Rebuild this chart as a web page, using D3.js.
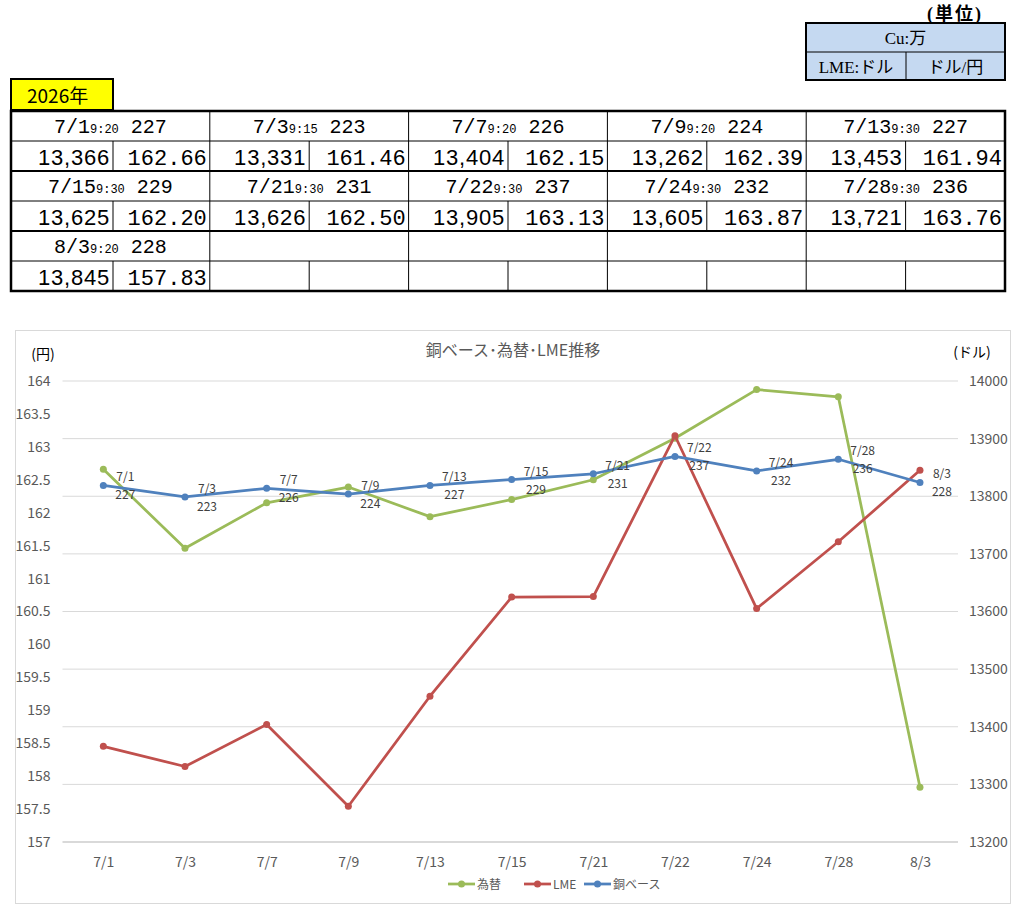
<!DOCTYPE html>
<html><head><meta charset="utf-8">
<script src="https://cdn.jsdelivr.net/npm/d3@7"></script>
<style>
html,body{margin:0;padding:0;background:#fff;}
svg{display:block;}
</style></head>
<body>
<svg id="c" width="1036" height="920"></svg>
<script>
// ---- data ----
const dates  = ["7/1","7/3","7/7","7/9","7/13","7/15","7/21","7/22","7/24","7/28","8/3"];
const times  = ["9:20","9:15","9:20","9:20","9:30","9:30","9:30","9:30","9:30","9:30","9:20"];
const copper = [227,223,226,224,227,229,231,237,232,236,228];
const lme    = [13366,13331,13404,13262,13453,13625,13626,13905,13605,13721,13845];
const fx     = [162.66,161.46,162.15,162.39,161.94,162.20,162.50,163.13,163.87,163.76,157.83];
const leftTicks  = [157,157.5,158,158.5,159,159.5,160,160.5,161,161.5,162,162.5,163,163.5,164];
const rightTicks = [13200,13300,13400,13500,13600,13700,13800,13900,14000];
const seriesNames = ["為替","LME","銅ベース"];
const yearLabel = "2026年";
const chartTitle = "銅ベース･為替･LME推移";
const unitTitle = "(単位)";
const unitCells = ["Cu:万","LME:ドル","ドル/円"];

const svg = d3.select("#c");
const colors = {fx:"#9BBB59", lme:"#C0504D", cu:"#4F81BD"};
const jp = "'Noto Sans CJK JP','Noto Sans',sans-serif";
const mono = "'Liberation Mono','DejaVu Sans Mono',monospace";
const sans = "'Liberation Sans','Noto Sans',sans-serif";
const serif = "'Liberation Serif','Noto Sans CJK JP',serif";

// ---- unit box ----
const ub = {x0:806, x1:1005, y0:23, ym:52, y1:80, xm:906};
svg.append("text").attr("x",955).attr("y",20).attr("text-anchor","middle")
  .attr("font-family",serif).attr("font-size",18).attr("font-weight","bold").attr("letter-spacing",2).text(unitTitle);
svg.append("rect").attr("x",ub.x0).attr("y",ub.y0).attr("width",ub.x1-ub.x0).attr("height",ub.y1-ub.y0)
  .attr("fill","#C5D9F1").attr("stroke","#000").attr("stroke-width",2);
svg.append("line").attr("x1",ub.x0).attr("x2",ub.x1).attr("y1",ub.ym).attr("y2",ub.ym).attr("stroke","#000").attr("stroke-width",1);
svg.append("line").attr("x1",ub.xm).attr("x2",ub.xm).attr("y1",ub.ym).attr("y2",ub.y1).attr("stroke","#000").attr("stroke-width",1);
svg.append("text").attr("x",(ub.x0+ub.x1)/2).attr("y",44).attr("text-anchor","middle")
  .attr("font-family",serif).attr("font-size",17).text(unitCells[0]);
svg.append("text").attr("x",(ub.x0+ub.xm)/2).attr("y",73).attr("text-anchor","middle")
  .attr("font-family",serif).attr("font-size",17).text(unitCells[1]);
svg.append("text").attr("x",(ub.xm+ub.x1)/2).attr("y",73).attr("text-anchor","middle")
  .attr("font-family",serif).attr("font-size",17).text(unitCells[2]);

// ---- year box ----
svg.append("rect").attr("x",11).attr("y",79).attr("width",102).attr("height",31)
  .attr("fill","#FFFF00").attr("stroke","#000").attr("stroke-width",2);
svg.append("text").attr("x",27).attr("y",103).attr("font-family",jp).attr("font-size",19).text(yearLabel);

// ---- table ----
const tX0 = 11, tX1 = 1005, groupsPerRow = 5;
const groupW = (tX1 - tX0)/groupsPerRow;
const rowTops = [111,171,231];
const rowH = 30;
const nRows = rowTops.length;
const fmtComma = d3.format(",");
for (let r=0;r<nRows;r++){
  const yTop = rowTops[r];
  for (let g=0; g<groupsPerRow; g++){
    const gx = tX0 + g*groupW;
    const split = gx + (g===0 ? 102 : groupW/2);
    svg.append("line").attr("x1",split).attr("x2",split).attr("y1",yTop+rowH).attr("y2",yTop+2*rowH)
      .attr("stroke","#000").attr("stroke-width",1);
    if (g>0) svg.append("line").attr("x1",gx).attr("x2",gx).attr("y1",yTop).attr("y2",yTop+2*rowH)
      .attr("stroke","#000").attr("stroke-width",1);
  }
  svg.append("line").attr("x1",tX0).attr("x2",tX1).attr("y1",yTop+rowH).attr("y2",yTop+rowH)
    .attr("stroke","#000").attr("stroke-width",1);
  if (r>0) svg.append("line").attr("x1",tX0).attr("x2",tX1).attr("y1",yTop).attr("y2",yTop)
    .attr("stroke","#000").attr("stroke-width",2);
}
svg.append("rect").attr("x",tX0).attr("y",rowTops[0]).attr("width",tX1-tX0).attr("height",nRows*2*rowH)
  .attr("fill","none").attr("stroke","#000").attr("stroke-width",2.5);

dates.forEach((d,i)=>{
  const r = Math.floor(i/groupsPerRow), g = i%groupsPerRow;
  const gx = tX0 + g*groupW;
  const split = gx + (g===0 ? 102 : groupW/2);
  const yTop = rowTops[r];
  const t = svg.append("text").attr("x",gx+groupW/2).attr("y",yTop+22).attr("text-anchor","middle")
    .attr("font-family",mono).attr("font-size",20).attr("fill","#000");
  t.append("tspan").text(d);
  t.append("tspan").attr("font-size",12).text(times[i]);
  t.append("tspan").text(" "+copper[i]);
  svg.append("text").attr("x",split-3).attr("y",yTop+rowH+24).attr("text-anchor","end")
    .attr("font-family",sans).attr("font-size",22).attr("letter-spacing",0.8).attr("fill","#000").text(fmtComma(lme[i]));
  svg.append("text").attr("x",gx+groupW-3).attr("y",yTop+rowH+24).attr("text-anchor","end")
    .attr("font-family",mono).attr("font-size",22).attr("fill","#000").text(fx[i].toFixed(2));
});

// ---- chart ----
svg.append("rect").attr("x",15.5).attr("y",330.5).attr("width",995).attr("height",573)
  .attr("fill","#fff").attr("stroke","#D9D9D9").attr("stroke-width",1);

const plot = {x0:62.5, x1:960.8, yTop:381, yBot:842};
const x = d3.scalePoint().domain(dates).range([plot.x0, plot.x1]).padding(0.5);
const yL = d3.scaleLinear().domain([157,164]).range([plot.yBot, plot.yTop]);
const yR = d3.scaleLinear().domain([13200,14000]).range([plot.yBot, plot.yTop]);
const yC = d3.scaleLinear().domain([104,263]).range([plot.yBot, plot.yTop]);

svg.append("g").selectAll("line").data(rightTicks).join("line")
  .attr("x1",plot.x0).attr("x2",958).attr("y1",d=>yR(d)).attr("y2",d=>yR(d))
  .attr("stroke","#D9D9D9").attr("stroke-width",d=>d===13200?2:1);

const gL = svg.append("g").attr("transform",`translate(${plot.x0-9},0)`)
  .call(d3.axisLeft(yL).tickValues(leftTicks).tickSize(0).tickFormat(d3.format("~g")));
gL.select(".domain").remove();
gL.selectAll("text").attr("font-family",jp).attr("font-size",14).attr("fill","#595959");
const gR = svg.append("g").attr("transform",`translate(966,0)`)
  .call(d3.axisRight(yR).tickValues(rightTicks).tickSize(0).tickFormat(d3.format("d")));
gR.select(".domain").remove();
gR.selectAll("text").attr("font-family",jp).attr("font-size",14).attr("fill","#595959");
const gX = svg.append("g").attr("transform",`translate(0,${plot.yBot+12})`)
  .call(d3.axisBottom(x).tickSize(0));
gX.select(".domain").remove();
gX.selectAll("text").attr("font-family",jp).attr("font-size",14).attr("fill","#595959");

svg.append("text").attr("x",513).attr("y",356).attr("text-anchor","middle")
  .attr("font-family",jp).attr("font-size",16).attr("fill","#595959").text(chartTitle);
svg.append("text").attr("x",43).attr("y",359).attr("text-anchor","middle")
  .attr("font-family",jp).attr("font-size",14).attr("fill","#000").text("(円)");
svg.append("text").attr("x",972).attr("y",357).attr("text-anchor","middle")
  .attr("font-family",jp).attr("font-size",14).attr("fill","#000").text("(ドル)");

const series = [
  {name:seriesNames[0], vals:fx, y:yL, color:colors.fx},
  {name:seriesNames[1], vals:lme, y:yR, color:colors.lme},
  {name:seriesNames[2], vals:copper, y:yC, color:colors.cu}
];
series.forEach(s=>{
  const line = d3.line().x((v,i)=>x(dates[i])).y(v=>s.y(v));
  svg.append("path").datum(s.vals).attr("d",line).attr("fill","none")
    .attr("stroke",s.color).attr("stroke-width",2.75).attr("stroke-linejoin","round");
  svg.append("g").selectAll("circle").data(s.vals).join("circle")
    .attr("cx",(v,i)=>x(dates[i])).attr("cy",v=>s.y(v)).attr("r",3.5).attr("fill",s.color);
});

const lbl = svg.append("g");
copper.forEach((v,i)=>{
  const px = x(dates[i]), py = yC(v);
  const g = lbl.append("g");
  const t1 = g.append("text").attr("y",py-4).attr("text-anchor","middle")
    .attr("font-family",jp).attr("font-size",12).attr("fill","#404040").text(dates[i]);
  const t2 = g.append("text").attr("y",py+14).attr("text-anchor","middle")
    .attr("font-family",jp).attr("font-size",12).attr("fill","#404040").text(v);
  const w = Math.max(t1.node().getComputedTextLength(), t2.node().getComputedTextLength());
  const cx = px + 12 + w/2;
  t1.attr("x",cx); t2.attr("x",cx);
});

const legX = [448, 524, 584];
series.forEach((s,i)=>{
  const lx = legX[i], ly = 884;
  svg.append("line").attr("x1",lx).attr("x2",lx+27).attr("y1",ly).attr("y2",ly)
    .attr("stroke",s.color).attr("stroke-width",2.75);
  svg.append("circle").attr("cx",lx+13.5).attr("cy",ly).attr("r",3.5).attr("fill",s.color);
  svg.append("text").attr("x",lx+29).attr("y",ly+4.5).attr("font-family",jp).attr("font-size",12)
    .attr("fill","#595959").text(s.name);
});
</script>
</body></html>
